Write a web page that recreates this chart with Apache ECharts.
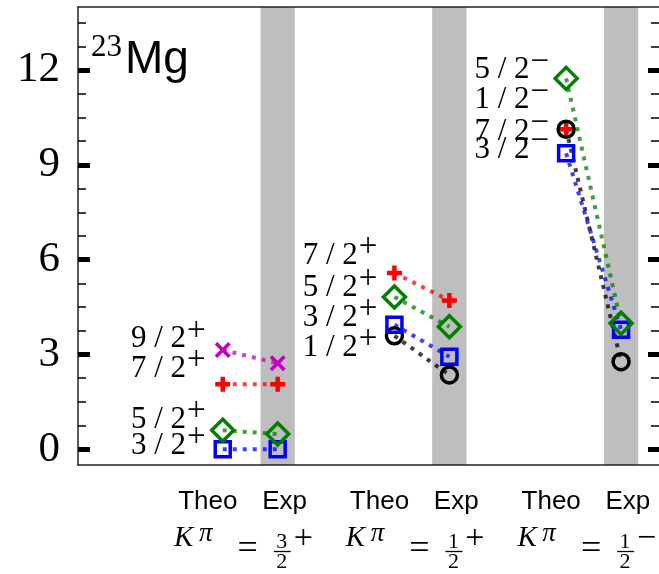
<!DOCTYPE html>
<html>
<head>
<meta charset="utf-8">
<script src="https://cdn.jsdelivr.net/npm/echarts@6/dist/echarts.min.js"></script>
<style>
  html, body { margin: 0; padding: 0; background: #fff; }
  #chart { width: 659px; height: 574px; }
</style>
</head>
<body>
<div id="chart"></div>
<script>
// K^pi bands (left to right)
var kNum = ['3', '1', '1'];
var kDen = ['2', '2', '2'];
var kParity = ['+', '+', '\u2212'];

var spins = ['9/2', '7/2', '5/2', '3/2', '1/2'];

// energies per band, null = not there
var theo92 = [3.14, null, null];
var exp92  = [2.72, null, null];
var theo72 = [2.06, 5.58, 10.13];
var exp72  = [2.06, 4.71, null];
var theo52 = [0.60, 4.82, 11.74];
var exp52  = [0.48, 3.88, 3.99];
var theo32 = [0.00, 3.94, 9.37];
var exp32  = [0.00, 2.93, 3.78];
var theo12 = [null, 3.59, 10.13];
var exp12  = [null, 2.35, 2.77];

// height (energy) where each J^pi text is written
var text92 = [3.48, null, null];
var text72 = [2.55, 6.13, 10.05];
var text52 = [0.94, 5.12, 12.0];
var text32 = [0.12, 4.16, 9.49];
var text12 = [null, 3.22, 11.05];

var yMajor = [0, 3, 6, 9, 12];
var yMinor = [0.75, 1.5, 2.25, 3.75, 4.5, 5.25, 6.75, 7.5, 8.25, 9.75, 10.5, 11.25, 12.75, 13.5];
var colLabels = ['Theo', 'Exp'];

var EXP_DX = 0.32;     // Exp column right of Theo
var BAND_HW = 0.1;     // half width of grey band
var THEO_LBL = -0.087; // where "Theo" text is centred
var EXP_LBL = 0.36;

var plusPath = 'path://M3.5,0H6.5V3.5H10V6.5H6.5V10H3.5V6.5H0V3.5H3.5Z';
var crossPath = 'path://M0,1.6L1.6,0L5,3.4L8.4,0L10,1.6L6.6,5L10,8.4L8.4,10L5,6.6L1.6,10L0,8.4L3.4,5Z';

var look = {
  '9/2': { color: '#bf00bf', symbol: crossPath, size: 16, filled: true,  theo: theo92, exp: exp92, txt: text92 },
  '7/2': { color: '#ff0000', symbol: plusPath,  size: 15, filled: true,  theo: theo72, exp: exp72, txt: text72 },
  '5/2': { color: '#008000', symbol: 'diamond', size: 22, filled: false, theo: theo52, exp: exp52, txt: text52 },
  '3/2': { color: '#0000ff', symbol: 'rect',    size: 15, filled: false, theo: theo32, exp: exp32, txt: text32 },
  '1/2': { color: '#000000', symbol: 'circle',  size: 16, filled: false, theo: theo12, exp: exp12, txt: text12 }
};
var drawOrder = ['9/2', '7/2', '1/2', '3/2', '5/2'];

var chart = echarts.init(document.getElementById('chart'));

var series = [];
// grey experiment bands
series.push({
  type: 'line', data: [], z: 1, silent: true,
  markArea: {
    silent: true,
    itemStyle: { color: '#bebebe' },
    data: kNum.map(function (k, g) {
      return [{ xAxis: g + EXP_DX - BAND_HW }, { xAxis: g + EXP_DX + BAND_HW }];
    })
  }
});

drawOrder.forEach(function (j) {
  var s = look[j];
  for (var g = 0; g < kNum.length; g++) {
    var pts = [];
    if (s.theo[g] != null) pts.push([g, s.theo[g]]);
    if (s.exp[g] != null) pts.push([g + EXP_DX, s.exp[g]]);
    if (!pts.length) continue;
    series.push({
      type: 'line',
      data: pts,
      z: 3,
      symbol: s.symbol,
      symbolSize: s.size,
      showAllSymbol: true,
      lineStyle: { color: s.color, width: 4, type: [4, 6], opacity: 0.75 },
      itemStyle: {
        color: s.filled ? s.color : 'rgba(0,0,0,0)',
        borderColor: s.color,
        borderWidth: s.filled ? 0 : 3.5
      },
      emphasis: { disabled: true }
    });
  }
});

// J^pi texts next to the Theo column
var textData = [];
spins.forEach(function (j) {
  var s = look[j];
  for (var g = 0; g < kNum.length; g++) {
    if (s.txt[g] == null) continue;
    textData.push({ value: [g, s.txt[g]], jp: j, par: kParity[g] });
  }
});
series.push({
  type: 'scatter',
  data: textData,
  symbolSize: 0,
  z: 4,
  silent: true,
  itemStyle: { opacity: 1 },
  label: {
    show: true,
    position: 'left',
    distance: 17,
    color: '#000',
    opacity: 1,
    formatter: function (p) {
      return '{b|' + p.data.jp.replace('/', ' / ') + '}{s|' + p.data.par + '}';
    },
    rich: {
      b: { fontFamily: 'Liberation Serif', fontSize: 31, lineHeight: 30, height: 30, color: '#000' },
      s: { fontFamily: 'Liberation Serif', fontSize: 33, lineHeight: 14, height: 14, verticalAlign: 'top', color: '#000', padding: [0, 0, 0, 1] }
    }
  }
});

function yAx(pos, values, len, w, labels) {
  return {
    type: 'value', position: pos, min: -0.5, max: 14,
    axisLine: { show: pos === 'left' && labels, onZero: false, lineStyle: { color: '#222', width: 1.5 } },
    splitLine: { show: false },
    axisTick: { show: true, inside: true, length: len, customValues: values, lineStyle: { color: '#000', width: w } },
    axisLabel: labels ? {
      show: true, customValues: yMajor, margin: 18,
      fontFamily: 'Liberation Serif', fontSize: 43, color: '#000'
    } : { show: false },
    z: 10
  };
}

chart.setOption({
  animation: false,
  backgroundColor: '#fff',
  title: {
    text: '{a|23}{b|Mg}',
    left: 91, top: 37, padding: 0,
    textStyle: {
      fontWeight: 'normal',
      rich: {
        a: { fontFamily: 'Liberation Serif', fontWeight: 'normal', fontSize: 31, lineHeight: 22, height: 22, verticalAlign: 'top', color: '#000', padding: [0, 3, 0, 0] },
        b: { fontFamily: 'Liberation Sans', fontWeight: 'normal', fontSize: 46, lineHeight: 46, height: 46, color: '#000' }
      }
    }
  },
  grid: { left: 78, right: -1, top: 7, bottom: 109 },
  xAxis: [{
    type: 'value', min: -0.843, max: 2.541, position: 'bottom',
    axisLine: { show: true, onZero: false, lineStyle: { color: '#222', width: 1.5 } },
    axisTick: { show: false },
    splitLine: { show: false },
    axisLabel: {
      show: true, margin: 24,
      customValues: kNum.reduce(function (a, k, g) { return a.concat([g + THEO_LBL, g + EXP_LBL]); }, []),
      formatter: function (v) {
        return (v - Math.round(v)) < 0 ? colLabels[0] : colLabels[1];
      },
      fontFamily: 'Liberation Sans', fontSize: 26, color: '#000'
    },
    z: 10
  }, {
    type: 'value', min: -0.843, max: 2.541, position: 'top',
    axisLine: { show: true, onZero: false, lineStyle: { color: '#222', width: 1.5 } },
    axisTick: { show: false }, axisLabel: { show: false }, splitLine: { show: false },
    z: 10
  }],
  yAxis: [
    yAx('left', yMajor, 12, 5, true),
    yAx('left', yMinor, 8, 1.5, false),
    yAx('right', yMajor, 11, 5, false),
    yAx('right', yMinor, 8, 1.5, false)
  ],
  series: series
});

// K^pi = n/d parity under each band
var gfx = [];
var serif = 'Liberation Serif';
for (var g = 0; g < kNum.length; g++) {
  var px = chart.convertToPixel({ xAxisIndex: 0 }, g);
  var t = function (txt, x, y, size, italic) {
    gfx.push({
      type: 'text', silent: true,
      style: {
        text: txt, x: x, y: y,
        font: (italic ? 'italic ' : '') + size + 'px "' + serif + '"',
        fill: '#000', textAlign: 'center', textVerticalAlign: 'middle',
        align: 'center', verticalAlign: 'middle'
      }
    });
  };
  t('K', px - 39, 538.5, 29, true);
  t('\u03c0', px - 17, 534, 27, true);
  t('=', px + 25, 549.5, 36, false);
  t(kNum[g], px + 59, 542, 22, false);
  t(kDen[g], px + 59, 562, 22, false);
  gfx.push({
    type: 'line', silent: true,
    shape: { x1: px + 51, y1: 551.5, x2: px + 68, y2: 551.5 },
    style: { stroke: '#000', lineWidth: 1.3 }
  });
  t(kParity[g], px + 80.5, 539, 34, false);
}
chart.setOption({ graphic: gfx });
</script>
</body>
</html>
